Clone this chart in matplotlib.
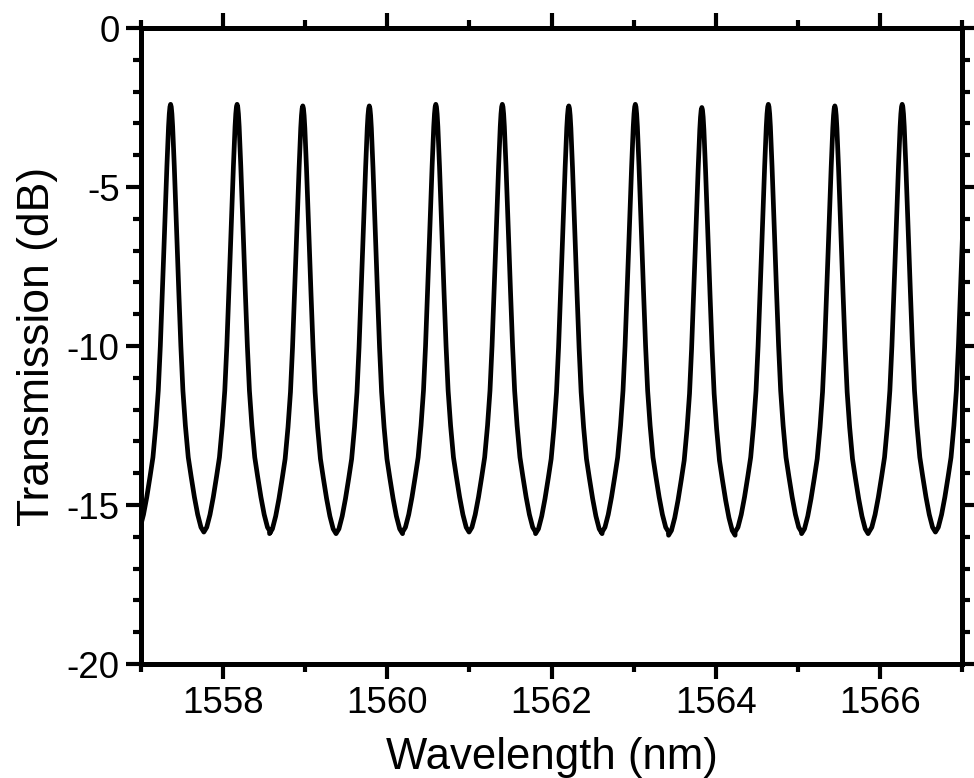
import numpy as np
import matplotlib.pyplot as plt
from matplotlib.ticker import MultipleLocator

plt.switch_backend("Agg")
plt.rcParams["font.family"] = ["Liberation Sans", "DejaVu Sans"]
plt.rcParams["axes.unicode_minus"] = False

# 峰值位置 (nm) 与峰值 (dB)，含左右两侧超出坐标范围的峰
peak_nm = [1556.55, 1557.36, 1558.17, 1558.97, 1559.78, 1560.59, 1561.40,
           1562.21, 1563.02, 1563.83, 1564.64, 1565.45, 1566.27, 1567.08]
peak_db = [-2.40, -2.40, -2.40, -2.45, -2.45, -2.40, -2.40,
           -2.45, -2.40, -2.50, -2.40, -2.45, -2.40, -2.40]

# 单个周期的谱形：距峰偏移 (nm) 与相对峰值下降 (dB)
offset_nm = [0.000, 0.008, 0.016, 0.025, 0.035, 0.045, 0.060, 0.080, 0.100,
             0.125, 0.150, 0.180, 0.215, 0.250, 0.290, 0.330, 0.370, 0.405]
drop_db = [0.00, -0.08, -0.30, -0.70, -1.30, -1.95, -3.00, -4.45, -5.90,
           -7.60, -9.00, -10.10, -11.10, -11.70, -12.35, -12.90, -13.30, -13.45]

xs, ys = [], []
off = np.array(offset_nm)
drp = np.array(drop_db)
for p, h in zip(peak_nm, peak_db):
    xs.extend(list(p - off[::-1]) + list(p + off[1:]))
    ys.extend(list(h + drp[::-1]) + list(h + drp[1:]))

fig = plt.figure(figsize=(9.74, 7.78), dpi=100)
ax = fig.add_axes([0.1448, 0.1465, 0.843, 0.8175])
ax.plot(xs, ys, color="black", lw=3.4, solid_joinstyle="round")

ax.set_xlim(1557, 1567)
ax.set_ylim(-20, 0)
ax.xaxis.set_major_locator(MultipleLocator(2))
ax.xaxis.set_minor_locator(MultipleLocator(1))
ax.yaxis.set_major_locator(MultipleLocator(5))
ax.yaxis.set_minor_locator(MultipleLocator(1))

for s in ax.spines.values():
    s.set_linewidth(3.6)
ax.tick_params(which="both", direction="out", top=True, right=True,
               labeltop=False, labelright=False, width=3.0, labelsize=26.5)
ax.tick_params(which="major", length=10.5, pad=5)
ax.tick_params(which="minor", length=6)

ax.set_xlabel("Wavelength (nm)", fontsize=31.5, labelpad=12)
ax.set_ylabel("Transmission (dB)", fontsize=32, labelpad=6)

fig.savefig("out.png", dpi=100)
plt.close(fig)
